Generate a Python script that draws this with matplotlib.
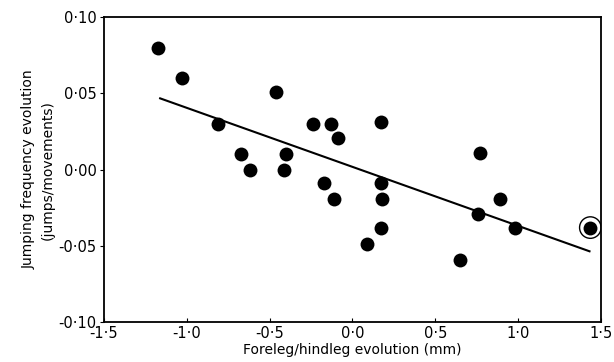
import numpy as np
import matplotlib.pyplot as plt

# foreleg/hindleg evolution (mm) vs jumping frequency evolution
foreleg = [-1.17, -1.03, -0.46, -0.81, -0.24, -0.13, -0.09, 0.17,
           -0.67, -0.40, -0.62, -0.415, 0.77, -0.17, -0.11, 0.17,
           0.18, 0.17, 0.09, 0.89, 0.76, 0.98, 0.65]
jumping = [0.080, 0.060, 0.051, 0.030, 0.030, 0.030, 0.021, 0.031,
           0.010, 0.010, 0.000, 0.000, 0.011, -0.009, -0.019, -0.009,
           -0.019, -0.038, -0.049, -0.019, -0.029, -0.038, -0.059]

# the circled point
outlier_x = [1.435]
outlier_y = [-0.038]

# regression line
fit_slope = -0.0387
fit_intercept = 0.0018
fit_range = [-1.16, 1.43]

xticks = [-1.5, -1.0, -0.5, 0.0, 0.5, 1.0, 1.5]
xticklabels = ['-1·5', '-1·0', '-0·5', '0·0', '0·5', '1·0', '1·5']
yticks = [-0.10, -0.05, 0.00, 0.05, 0.10]
yticklabels = ['-0·10', '-0·05', '0·00', '0·05', '0·10']

plt.rcParams['font.family'] = 'DejaVu Sans'

fig = plt.figure(figsize=(6.14, 3.62), dpi=100)
ax = fig.add_axes([0.169, 0.110, 0.810, 0.843])

fx = np.array(fit_range)
ax.plot(fx, fit_slope * fx + fit_intercept, color='black', lw=1.5, zorder=2)

ax.scatter(foreleg, jumping, s=100, color='black', zorder=3, linewidths=0)
ax.scatter(outlier_x, outlier_y, s=100, color='black', zorder=3, linewidths=0)
ax.scatter(outlier_x, outlier_y, s=240, facecolors='none', edgecolors='black',
           linewidths=1.0, zorder=3)

ax.set_xlim(-1.5, 1.5)
ax.set_ylim(-0.10, 0.10)
ax.set_xticks(xticks)
ax.set_xticklabels(xticklabels, fontsize=10.5)
ax.set_yticks(yticks)
ax.set_yticklabels(yticklabels, fontsize=10.5)
ax.tick_params(axis='x', direction='in', length=3, pad=3)
ax.tick_params(axis='y', direction='out', length=3, pad=2)
for sp in ax.spines.values():
    sp.set_linewidth(1.3)

ax.set_xlabel('Foreleg/hindleg evolution (mm)', fontsize=10, labelpad=1)
ax.set_ylabel('Jumping frequency evolution\n(jumps/movements)', fontsize=10,
              labelpad=3, linespacing=1.45)

fig.savefig('out.png', dpi=100)
